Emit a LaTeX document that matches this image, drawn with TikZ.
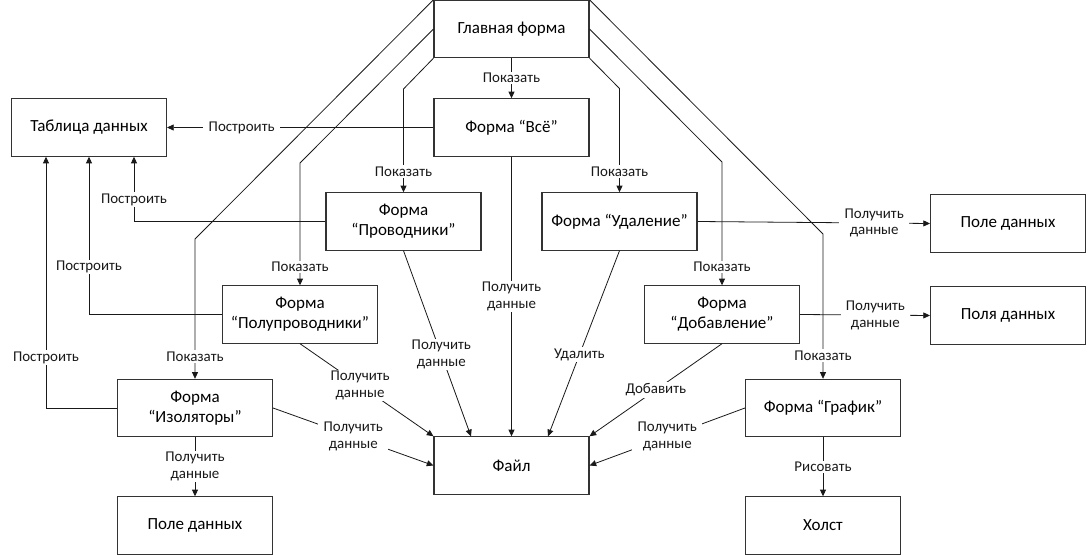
\documentclass[tikz,border=0pt]{standalone}
\usepackage{fontspec}
\setmainfont{Carlito}
\usepackage{tikz}
\usetikzlibrary{arrows.meta,calc}

\begin{document}
\begin{tikzpicture}[x=0.75pt,y=-0.75pt,
  box/.style={draw=black!80,line width=0.8pt,minimum width=116.25pt,minimum height=43pt,
    inner sep=0pt,align=center,font=\fontsize{12.75}{15}\selectfont},
  lbl/.style={fill=white,inner xsep=4pt,inner ysep=1pt,align=center,font=\fontsize{11.2}{12.6}\selectfont},
  arr/.style={-{Triangle[length=5pt,width=4.5pt]},black!90,line width=0.6pt}]
  \useasboundingbox (0,0) rectangle (1088,555);
  % Forms
  \node[box] (glav)  at (511.5,29)    {Главная форма};
  \node[box] (vse)   at (511.5,127.5) {Форма “Всё”};
  \node[box] (tabl)  at (89,127.5)    {Таблица данных};
  \node[box] (prov)  at (403.5,221.5) {Форма\\“Проводники”};
  \node[box] (udal)  at (619.5,221.5) {Форма “Удаление”};
  \node[box] (pole1) at (1008,223.5)  {Поле данных};
  \node[box] (polu)  at (300,314.5)   {Форма\\“Полупроводники”};
  \node[box] (dobav) at (722,314.5)   {Форма\\“Добавление”};
  \node[box] (pole2) at (1008,315.5)  {Поля данных};
  \node[box] (izol)  at (195,408)     {Форма\\“Изоляторы”};
  \node[box] (graf)  at (823,408)     {Форма “График”};
  \node[box] (fail)  at (511.5,465.5) {Файл};
  \node[box] (pole3) at (195,525.5)   {Поле данных};
  \node[box] (holst) at (823,525.5)   {Холст};
  % Show forms
  \draw[arr] (glav) -- node[lbl]{Показать} (vse);
  \draw[arr] (glav.south west) -- (prov.north |- 0,89) -- node[lbl,pos=0.8]{Показать} (prov.north);
  \draw[arr] (glav.west) -- (polu.north |- 0,163) -- node[lbl,pos=0.85]{Показать} (polu.north);
  \draw[arr] (glav.north west) -- (izol.north |- 0,239) -- node[lbl,pos=0.84]{Показать} (izol.north);
  \draw[arr] (glav.south east) -- (udal.north |- 0,88.5) -- node[lbl,pos=0.8]{Показать} (udal.north);
  \draw[arr] (glav.east) -- (dobav.north |- 0,162) -- node[lbl,pos=0.85]{Показать} (dobav.north);
  \draw[arr] (glav.north east) -- (graf.north |- 0,234) -- node[lbl,pos=0.84]{Показать} (graf.north);
  % Build table
  \draw[arr] (vse) -- node[lbl,pos=0.72]{Построить} (tabl);
  \draw[arr] (prov.west) -| node[lbl,pos=0.67]{Построить} ($(tabl.south)+(45,0)$);
  \draw[arr] (polu.west) -| node[lbl,pos=0.65]{Построить} (tabl.south);
  \draw[arr] (izol.west) -| node[lbl,pos=0.6]{Построить} ($(tabl.south)+(-43,0)$);
  % File access
  \draw[arr] (vse) -- node[lbl]{Получить\\данные} (fail);
  \draw[arr] (prov.south) -- node[lbl,pos=0.56]{Получить\\данные} ($(fail.north)+(-40.5,0)$);
  \draw[arr] (polu.south) -- node[lbl,pos=0.45]{Получить\\данные} (fail.north west);
  \draw[arr] (izol.east) -- node[lbl]{Получить\\данные} (fail.west);
  \draw[arr] (udal.south) -- node[lbl,pos=0.56]{Удалить} ($(fail.north)+(36.5,0)$);
  \draw[arr] (dobav.south) -- node[lbl]{Добавить} (fail.north east);
  \draw[arr] (graf.west) -- node[lbl]{Получить\\данные} (fail.east);
  % Data fields
  \draw[arr] (izol) -- node[lbl]{Получить\\данные} (pole3);
  \draw[arr] (udal.east) -- node[lbl,pos=0.76]{Получить\\данные} (pole1.west);
  \draw[arr] (dobav.east) -- node[lbl,pos=0.58]{Получить\\данные} (pole2.west);
  \draw[arr] (graf) -- node[lbl]{Рисовать} (holst);
\end{tikzpicture}
\end{document}
